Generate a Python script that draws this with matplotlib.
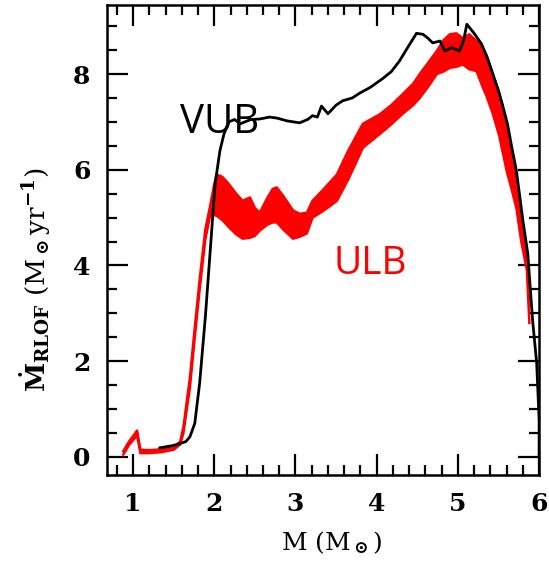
import numpy as np
import matplotlib
matplotlib.use("Agg")
import matplotlib.pyplot as plt
from matplotlib.ticker import MultipleLocator

# VUB track (black line)
vub_m = [1.33, 1.50, 1.65, 1.70, 1.76, 1.82, 1.89, 1.95, 2.01, 2.07, 2.12, 2.18, 2.25, 2.32,
         2.45, 2.56, 2.68, 2.77, 2.90, 3.05, 3.15, 3.21, 3.27, 3.32, 3.40, 3.50, 3.58, 3.70,
         3.79, 3.92, 4.07, 4.18, 4.28, 4.38, 4.49, 4.57, 4.63, 4.69, 4.78, 4.84, 4.92, 5.02,
         5.07, 5.11, 5.20, 5.29, 5.36, 5.43, 5.49, 5.55, 5.61, 5.66, 5.72, 5.80, 5.86, 5.92,
         5.97, 6.00, 6.00]
vub_mdot = [0.19, 0.24, 0.32, 0.42, 0.70, 1.54, 2.92, 4.30, 5.70, 6.40, 6.75, 7.00, 7.05, 6.96,
            7.05, 7.06, 7.10, 7.08, 7.02, 6.98, 7.05, 7.13, 7.10, 7.33, 7.17, 7.35, 7.44, 7.50,
            7.60, 7.72, 7.90, 8.05, 8.27, 8.55, 8.85, 8.83, 8.75, 8.65, 8.69, 8.48, 8.55, 8.48,
            8.70, 9.04, 8.85, 8.63, 8.35, 8.00, 7.70, 7.35, 6.96, 6.50, 5.98, 4.94, 4.25, 2.85,
            1.96, 0.77, 0.0]

# ULB track (red band: lower / upper edge)
ulb_m = [0.88, 0.95, 1.05, 1.09, 1.20, 1.35, 1.50, 1.58, 1.62, 1.70, 1.76, 1.82, 1.89, 1.95,
         2.00, 2.03, 2.10, 2.18, 2.27, 2.35, 2.44, 2.50, 2.56, 2.65, 2.72, 2.77, 2.85, 2.97,
         3.05, 3.14, 3.21, 3.35, 3.51, 3.65, 3.83, 4.04, 4.18, 4.32, 4.45, 4.53, 4.64, 4.74,
         4.82, 4.90, 4.98, 5.06, 5.14, 5.23, 5.30, 5.35, 5.43, 5.51, 5.56, 5.60, 5.66, 5.72,
         5.78, 5.85, 5.88]
ulb_lo = [0.05, 0.25, 0.45, 0.08, 0.08, 0.10, 0.15, 0.26, 0.50, 1.45, 2.50, 3.50, 4.55, 5.05,
          5.05, 5.04, 4.95, 4.80, 4.65, 4.56, 4.58, 4.62, 4.73, 4.85, 4.90, 4.90, 4.75, 4.56,
          4.60, 4.67, 5.00, 5.15, 5.35, 5.80, 6.46, 6.75, 6.95, 7.17, 7.35, 7.50, 7.75, 8.00,
          8.05, 8.13, 8.15, 8.20, 8.10, 8.06, 7.75, 7.55, 7.17, 6.70, 6.30, 5.98, 5.60, 5.20,
          4.50, 3.90, 2.80]
ulb_hi = [0.12, 0.32, 0.55, 0.15, 0.14, 0.16, 0.20, 0.32, 0.62, 1.65, 2.70, 3.70, 4.75, 5.25,
          5.70, 5.90, 5.85, 5.70, 5.50, 5.35, 5.42, 5.20, 5.10, 5.40, 5.60, 5.63, 5.45, 5.15,
          5.08, 5.10, 5.35, 5.60, 5.90, 6.40, 6.96, 7.16, 7.35, 7.58, 7.80, 8.00, 8.25, 8.48,
          8.70, 8.83, 8.85, 8.75, 8.83, 8.69, 8.55, 8.40, 8.00, 7.60, 7.25, 6.90, 6.40, 5.90,
          5.10, 4.20, 3.50]

plt.rcParams['font.family'] = ['DejaVu Serif']
plt.rcParams['font.weight'] = 'bold'
plt.rcParams['mathtext.fontset'] = 'dejavuserif'
plt.rcParams['mathtext.default'] = 'bf'

fig = plt.figure(figsize=(5.49, 5.66), dpi=100)
ax = fig.add_axes([0.195, 0.161, 0.787, 0.830])

ax.fill_between(ulb_m, ulb_lo, ulb_hi, color='red', lw=0)
ax.plot(ulb_m, ulb_lo, color='red', lw=1.8)
ax.plot(ulb_m, ulb_hi, color='red', lw=1.8)
ax.plot(vub_m, vub_mdot, color='black', lw=2)

ax.text(1.58, 6.77, 'VUB', fontsize=29, fontweight='normal', family='Open Sans', color='black')
ax.text(3.47, 3.83, 'ULB', fontsize=28, fontweight='normal', family='Open Sans', color='red')

ax.set_xlim(0.68, 6.0)
ax.set_ylim(-0.375, 9.44)
ax.xaxis.set_major_locator(MultipleLocator(1))
ax.xaxis.set_minor_locator(MultipleLocator(0.2))
ax.yaxis.set_major_locator(MultipleLocator(2))
ax.yaxis.set_minor_locator(MultipleLocator(0.5))
ax.tick_params(which='both', direction='in', top=True, right=True, width=1.6, labelsize=18)
ax.tick_params(which='major', length=15, pad=12)
ax.tick_params(which='minor', length=7)
for s in ax.spines.values():
    s.set_linewidth(1.8)

ax.set_xlabel(r'M (M$_\odot$)', fontsize=18)
ax.set_ylabel(r'$\dot{\mathbf{M}}_{RLOF}$ (M$_\odot$yr$^{-1}$)', fontsize=19)
ax.xaxis.set_label_coords(0.52, -0.115)
ax.yaxis.set_label_coords(-0.125, 0.415)

fig.savefig('out.png', dpi=100)
